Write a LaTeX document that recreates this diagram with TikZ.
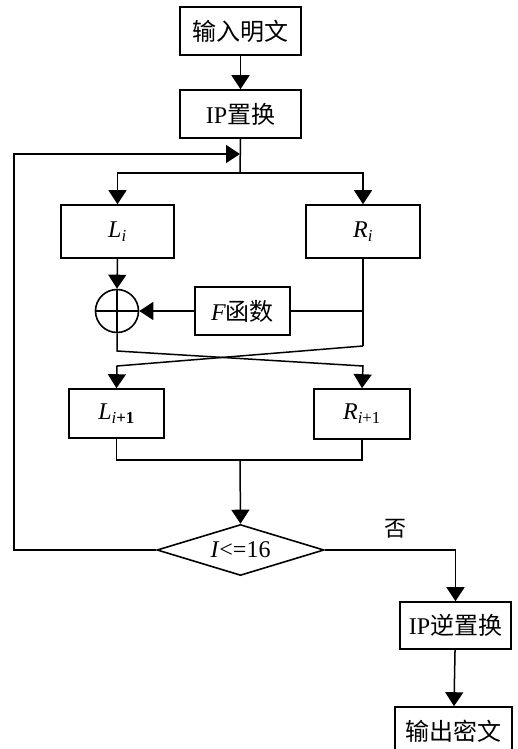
\documentclass[tikz,border=0pt]{standalone}
\usepackage{fontspec}
\setmainfont{Liberation Serif}
\newfontfamily\cjk{Noto Sans CJK SC}
\usetikzlibrary{arrows.meta, shapes.geometric}

\begin{document}
\begin{tikzpicture}[x=1pt, y=-1pt,
    box/.style={draw, line width=1.6pt, inner sep=0pt, font=\fontsize{24}{28}\selectfont},
    arr/.style={-{Triangle[length=14pt,width=18pt]}},
    every path/.style={line width=1.5pt}]
  \useasboundingbox (0,0) rectangle (517,749);

  % --- 1. 上部: 输入与 IP 置换 ---
  \node[box, minimum width=121pt, minimum height=48pt] (in) at (240.5,31) {\cjk 输入明文};
  \node[box, minimum width=121pt, minimum height=48pt] (ip) at (240.5,114) {IP{\cjk 置换}};

  % --- 2. 左右两半 L_i, R_i ---
  \node[box, minimum width=113pt, minimum height=53pt] (li) at (117.5,231.5) {\textit{L}\textsubscript{\textit{i}}};
  \node[box, minimum width=114pt, minimum height=53pt] (ri) at (363,231.5) {\textit{R}\textsubscript{\textit{i}}};

  % --- 3. 异或与 F 函数 ---
  \node[draw, circle, line width=1.6pt, minimum size=43pt, inner sep=0pt] (xor) at (117,311) {};
  \node[box, minimum width=95pt, minimum height=48pt] (fbox) at (242.5,311) {\textit{F}{\cjk 函数}};

  % --- 4. 下一轮 L_{i+1}, R_{i+1} ---
  \node[box, minimum width=95pt, minimum height=49pt] (li1) at (116.5,413.5) {\textit{L}\textsubscript{\textit{i}\textbf{+1}}};
  \node[box, minimum width=96pt, minimum height=50pt] (ri1) at (362,414) {\textit{R}\textsubscript{\textit{i}+1}};

  % --- 5. 判断与输出 ---
  \node[draw, diamond, line width=1.6pt, aspect=3.3, minimum width=167pt, minimum height=51pt, inner sep=0pt,
        font=\fontsize{24}{28}\selectfont] (dia) at (240.5,550) {\textit{I}<=16};
  \node[box, minimum width=111pt, minimum height=47pt] (ipinv) at (455.5,625.5) {IP{\cjk 逆置换}};
  \node[box, minimum width=117pt, minimum height=48pt] (out) at (453.5,731) {\cjk 输出密文};

  % --- 6. 辅助点 ---
  \coordinate (split) at (240,173);
  \coordinate (fb) at (240,154);
  \coordinate (lx) at (117,351);
  \coordinate (rx) at (363,346);
  \coordinate (join) at (240,460);
  \coordinate (back) at (14,550);

  % --- 7. 连线 ---
  \draw[arr] (in) -- (ip);
  \draw (ip.south) -- (split);
  \draw[arr] (split) -| (li.north);
  \draw[arr] (split) -| (ri.north);
  \draw[arr] (li.south) -- (xor.north);
  \draw (xor.north) -- (xor.south) (xor.west) -- (xor.east);
  \draw (ri.south) -- (rx);
  \draw (fbox.east) -- (ri.south |- fbox.east);
  \draw[arr] (fbox.west) -- (xor.east);
  \draw[arr] (xor.south) -- (lx) -- (363,366) -- (ri1.north);
  \draw[arr] (rx) -- (117,366) -- (li1.north);
  \draw (li1.south) |- (join) -| (ri1.south);
  \draw[arr] (join) -- (dia.north);
  \draw[arr] (dia.west) -- (back) |- (fb);
  \draw[arr] (dia.east) -| (ipinv.north);
  \draw[arr] (ipinv) -- (out);

  \node[font=\fontsize{22}{26}\selectfont\cjk] (no) at (395,529) {否};
\end{tikzpicture}
\end{document}
